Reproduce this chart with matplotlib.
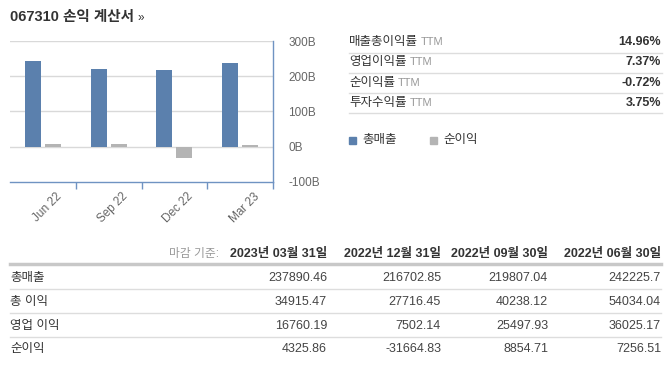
import matplotlib.pyplot as plt
import matplotlib.transforms as mtransforms
from matplotlib.lines import Line2D
from matplotlib.patches import Rectangle
import numpy as np

plt.rcParams['font.family'] = ['Liberation Sans', 'Noto Sans CJK KR']

# chart data (billions)
quarters = ['Jun 22', 'Sep 22', 'Dec 22', 'Mar 23']
revenue_b = [242.23, 219.81, 216.70, 237.89]
net_income_b = [7.26, 8.85, -31.66, 4.33]
y_ticks = [-100, 0, 100, 200, 300]
y_tick_labels = ['-100B', '0B', '100B', '200B', '300B']

# ratios panel
ratio_names = ['매출총이익률', '영업이익률', '순이익률', '투자수익률']
ratio_values = ['14.96%', '7.37%', '-0.72%', '3.75%']
legend_names = ['총매출', '순이익']

# table
table_dates = ['2023년 03월 31일', '2022년 12월 31일', '2022년 09월 30일', '2022년 06월 30일']
row_names = ['총매출', '총 이익', '영업 이익', '순이익']
row_values = [
    ['237890.46', '216702.85', '219807.04', '242225.7'],
    ['34915.47', '27716.45', '40238.12', '54034.04'],
    ['16760.19', '7502.14', '25497.93', '36025.17'],
    ['4325.86', '-31664.83', '8854.71', '7256.51'],
]

W, H = 667, 365
BLUE = '#5b80ad'
GREY = '#b4b4b4'
AXIS = '#6f93c2'
TXT = '#333333'
LIGHT = '#666666'

fig = plt.figure(figsize=(W / 100, H / 100), dpi=100)


def fx(px):
    return px / W


def fy(py):
    return 1 - py / H


# title
fig.text(fx(10), fy(17), '067310 손익 계산서', fontsize=10.5, fontweight='bold',
         color=TXT, va='center', ha='left')
fig.text(fx(137), fy(18), '»', fontsize=8.5, color=TXT, va='center', ha='left')

# bar chart
ax = fig.add_axes([fx(10), fy(182), fx(273) - fx(10), fy(41) - fy(182)])
x = np.arange(len(quarters))
ax.bar(x - 0.152, revenue_b, width=0.243, color=BLUE, zorder=3)
ax.bar(x + 0.152, net_income_b, width=0.243, color=GREY, zorder=3)
ax.set_xlim(-0.5, len(quarters) - 0.5)
ax.set_ylim(-100, 300)
for v in [0, 100, 200, 300]:
    ax.axhline(v, color='#d9d9d9', lw=1, zorder=1)
for s in ['top', 'left']:
    ax.spines[s].set_visible(False)
for s in ['right', 'bottom']:
    ax.spines[s].set_color(AXIS)
    ax.spines[s].set_linewidth(1)
ax.yaxis.tick_right()
ax.set_yticks(y_ticks)
ax.set_yticklabels(y_tick_labels)
ax.tick_params(axis='y', length=0, pad=11, labelsize=8.5, labelcolor=LIGHT)
ax.set_xticks(x)
ax.set_xticklabels(quarters, rotation=45, ha='right', rotation_mode='anchor')
ax.tick_params(axis='x', length=0, pad=6, labelsize=8.5, labelcolor=LIGHT)
ax.set_xticks(list(x + 0.5), minor=True)
ax.tick_params(axis='x', which='minor', length=5, color=AXIS, width=1)
offset = mtransforms.ScaledTranslation(13 / 100, 0, fig.dpi_scale_trans)
for lab in ax.get_xticklabels():
    lab.set_transform(lab.get_transform() + offset)

# ratios panel
for i, (name, val) in enumerate(zip(ratio_names, ratio_values)):
    yc = 42 + 20.3 * i
    t = fig.text(fx(349), fy(yc), name, fontsize=9, color=TXT, va='center', ha='left')
    fig.canvas.draw()
    bb = t.get_window_extent()
    fig.text(bb.x1 / W + fx(3), fy(yc), 'TTM', fontsize=8, color='#999999',
             va='center', ha='left')
    fig.text(fx(661), fy(yc), val, fontsize=9, fontweight='bold', color=TXT,
             va='center', ha='right')
    ly = 53 + 20.1 * i
    fig.add_artist(Line2D([fx(349), fx(662)], [fy(ly), fy(ly)], color='#dddddd', lw=1))

# legend
for px, col, name in [(349, BLUE, legend_names[0]), (430, GREY, legend_names[1])]:
    fig.add_artist(Rectangle((fx(px), fy(144)), fx(7), fy(137) - fy(144), color=col,
                             transform=fig.transFigure))
    fig.text(fx(px + 13), fy(140), name, fontsize=9, color=TXT, va='center', ha='left')

# table
col_right = [327, 441, 548, 661]
fig.text(fx(219), fy(254), '마감 기준:', fontsize=8.5, color='#999999', va='center', ha='right')
for cx, d in zip(col_right, table_dates):
    fig.text(fx(cx), fy(254), d, fontsize=9, fontweight='bold', color=TXT,
             va='center', ha='right')
fig.add_artist(Line2D([fx(10), fx(661)], [fy(264), fy(264)], color='#c8c8c8', lw=2.5))
row_y = [278, 302, 326, 349]
for j, (name, vals) in enumerate(zip(row_names, row_values)):
    fig.text(fx(10), fy(row_y[j]), name, fontsize=9, color=TXT, va='center', ha='left')
    for cx, v in zip(col_right, vals):
        fig.text(fx(cx), fy(row_y[j]), v, fontsize=9, color='#444444',
                 va='center', ha='right')
    if j < len(row_names) - 1:
        ly = 289 + 24 * j
        fig.add_artist(Line2D([fx(10), fx(661)], [fy(ly), fy(ly)], color='#dddddd', lw=1))

fig.savefig('out.png', dpi=100)
